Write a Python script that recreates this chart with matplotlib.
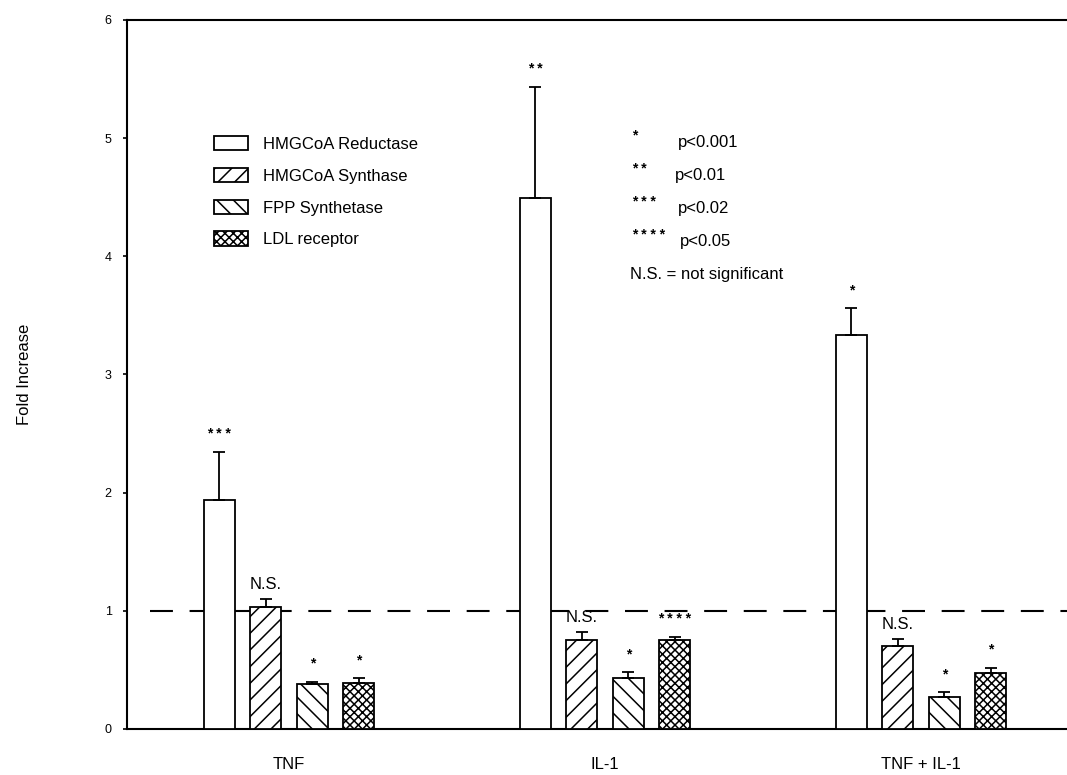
import numpy as np
import matplotlib
matplotlib.use("Agg")
import matplotlib.pyplot as plt

plt.rcParams['font.family'] = ['Liberation Sans', 'DejaVu Sans']
plt.rcParams['hatch.linewidth'] = 1.1

# treatments and measured genes
groups = ["TNF", "IL-1", "TNF + IL-1"]
genes = ["HMGCoA Reductase", "HMGCoA Synthase", "FPP Synthetase", "LDL receptor"]

# fold increase per gene, one value per treatment
reductase = [1.94, 4.49, 3.33]
synthase = [1.03, 0.75, 0.70]
fpp = [0.38, 0.43, 0.27]
ldl = [0.39, 0.75, 0.47]

# upper error (SE)
reductase_err = [0.40, 0.94, 0.23]
synthase_err = [0.07, 0.07, 0.06]
fpp_err = [0.02, 0.05, 0.04]
ldl_err = [0.04, 0.03, 0.05]

# significance marks
reductase_sig = ["***", "**", "*"]
synthase_sig = ["N.S.", "N.S.", "N.S."]
fpp_sig = ["*", "*", "*"]
ldl_sig = ["*", "****", "*"]

key_marks = ["*", "**", "***", "****"]
key_text = ["p<0.001", "p<0.01", "p<0.02", "p<0.05"]

values = [reductase, synthase, fpp, ldl]
errors = [reductase_err, synthase_err, fpp_err, ldl_err]
sigs = [reductase_sig, synthase_sig, fpp_sig, ldl_sig]
hatches = ["", "//", "\\\\", "xxxx"]


def stars(s):
    # spread the asterisks out a little
    return " ".join(s)


fig = plt.figure(figsize=(10.67, 7.75), dpi=100)
ax = fig.add_axes([0.119, 0.0594, 0.881, 0.9148])

step = 0.147
width = 0.098
xg = np.arange(len(groups))

handles = []
for i in range(4):
    xs = xg + (i - 1.5) * step
    b = ax.bar(xs, values[i], width, color="white", edgecolor="black",
               linewidth=1.3, hatch=hatches[i], label=genes[i], zorder=3)
    handles.append(b)
    ax.errorbar(xs, values[i], yerr=[np.zeros(3), errors[i]], fmt="none",
                ecolor="black", elinewidth=1.3, capsize=4, capthick=1.3, zorder=4)
    for x, v, e, s in zip(xs, values[i], errors[i], sigs[i]):
        if s.startswith("N"):
            ax.annotate(s, (x, v + e), xytext=(0, 5), textcoords="offset points",
                        ha="center", va="bottom", fontsize=12)
        else:
            ax.annotate(stars(s), (x, v + e), xytext=(0, 8), textcoords="offset points",
                        ha="center", va="bottom", fontsize=10, fontweight="bold")

ax.axhline(1.0, xmin=0.025, color="black", linewidth=1.5,
           dashes=(11, 8), zorder=2)

ax.set_xlim(-0.513, 2.462)
ax.set_ylim(0, 6)
ax.set_yticks(range(7))
ax.tick_params(axis="y", length=3, width=1.2, labelsize=9, pad=8)
ax.set_xticks(xg)
ax.set_xticklabels(groups, fontsize=12)
ax.tick_params(axis="x", length=0, pad=20)
ax.spines["right"].set_visible(False)
for sp in ["left", "bottom", "top"]:
    ax.spines[sp].set_linewidth(1.5)
ax.set_ylabel("Fold Increase", fontsize=12, labelpad=52)

leg = ax.legend(handles=handles, loc="upper left", bbox_to_anchor=(0.084, 0.848),
                frameon=False, fontsize=12, handlelength=2.0, handleheight=0.95,
                labelspacing=0.95, handletextpad=0.9, borderpad=0)

# significance key
key_x = [1.231, 1.222, 1.231, 1.237]
for k, (m, t) in enumerate(zip(key_marks, key_text)):
    y = 4.96 - k * 0.279
    ax.text(1.085, y + 0.06, stars(m), fontsize=10, fontweight="bold", va="center", ha="left")
    ax.text(key_x[k], y, t, fontsize=12, va="center", ha="left")
ax.text(1.079, 4.96 - 4 * 0.279, "N.S. = not significant", fontsize=12,
        va="center", ha="left")

fig.savefig("out.png", dpi=100)
